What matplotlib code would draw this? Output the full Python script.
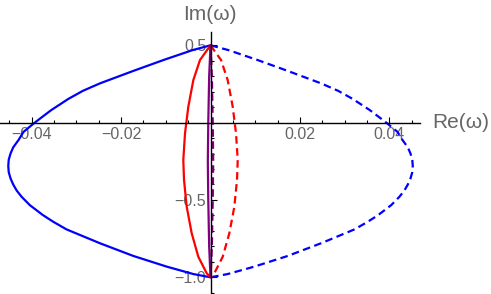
import numpy as np
import matplotlib
matplotlib.use('Agg')
import matplotlib.pyplot as plt
from matplotlib.ticker import MultipleLocator, FixedLocator

# left branch of each contour (Re < 0); the dashed branch is its mirror image
blue_re = [0.0, -0.0040, -0.0105, -0.0172, -0.0247, -0.0285, -0.0318,
           -0.0356, -0.0377, -0.0395, -0.0418, -0.0429, -0.0441, -0.0447,
           -0.0451, -0.0452, -0.0451, -0.0447, -0.0441, -0.0433, -0.0422,
           -0.0404, -0.0375, -0.0352, -0.0322, -0.0247, -0.01725,
           -0.00979, -0.00384, 0.0]
blue_im = [0.5, 0.469, 0.405, 0.335, 0.254, 0.206, 0.153, 0.081, 0.035,
           -0.005, -0.06, -0.112, -0.16, -0.20, -0.24, -0.28, -0.32, -0.36,
           -0.40, -0.44, -0.48, -0.533, -0.597, -0.64, -0.69, -0.780,
           -0.862, -0.931, -0.979, -1.0]

red_re = [0.0, -0.00235, -0.00384, -0.00496, -0.00570, -0.00608, -0.00592,
          -0.00532, -0.00420, -0.00273, -0.00085, 0.0]
red_im = [0.5, 0.405, 0.275, 0.103, -0.069, -0.242, -0.371, -0.544,
          -0.716, -0.867, -0.974, -1.0]

purple_re = [0.0, -0.0003, -0.0005, -0.0006, -0.0005, -0.0003, 0.0]
purple_im = [0.5, 0.3, 0.0, -0.25, -0.5, -0.8, -1.0]

x_major = [-0.04, -0.02, 0.02, 0.04]
x_labels = ['\u22120.04', '\u22120.02', '0.02', '0.04']
y_major = [-1.0, -0.5, 0.5]
y_labels = ['\u22121.0', '\u22120.5', '0.5']

plt.rcParams['font.family'] = ['Liberation Sans', 'DejaVu Sans']
label_gray = '#666666'

fig = plt.figure(figsize=(4.91, 2.94), dpi=100)
ax = fig.add_axes([0.0, 0.0, 420 / 491, 262 / 294])

lw = 1.6
dash = (3.4, 2.0)
curves = [(blue_re, blue_im, '#0000ff'),
          (red_re, red_im, '#ff0000'),
          (purple_re, purple_im, '#800080')]
for re, im, col in curves:
    re = np.array(re)
    ax.plot(re, im, color=col, lw=lw, solid_capstyle='round',
            solid_joinstyle='round', zorder=3)
    ax.plot(-re, im, color=col, lw=lw, dashes=dash, zorder=3)

ax.set_xlim(-0.04705, 0.04682)
ax.set_ylim(-1.108, 0.586)

for s in ['top', 'right']:
    ax.spines[s].set_visible(False)
ax.spines['left'].set_position(('data', 0))
ax.spines['bottom'].set_position(('data', 0))
for s in ['left', 'bottom']:
    ax.spines[s].set_linewidth(1.0)
    ax.spines[s].set_zorder(4)

ax.xaxis.set_major_locator(FixedLocator(x_major))
ax.xaxis.set_minor_locator(MultipleLocator(0.005))
ax.yaxis.set_major_locator(FixedLocator(y_major))
ax.yaxis.set_minor_locator(MultipleLocator(0.1))
ax.set_xticklabels(x_labels)
ax.set_yticklabels(y_labels)
ax.tick_params(which='both', direction='in', color='black', width=0.8,
               labelsize=11.5, labelcolor=label_gray, pad=3)
ax.tick_params(which='major', length=4.5)
ax.tick_params(which='minor', length=2.5)

fig.text(432 / 491, 1 - 122 / 294, 'Re(\u03c9)', fontsize=15,
         color=label_gray, ha='left', va='center')
fig.text(210 / 491, 1 - 14 / 294, 'Im(\u03c9)', fontsize=15,
         color=label_gray, ha='center', va='center')

fig.savefig('out.png', dpi=100)
